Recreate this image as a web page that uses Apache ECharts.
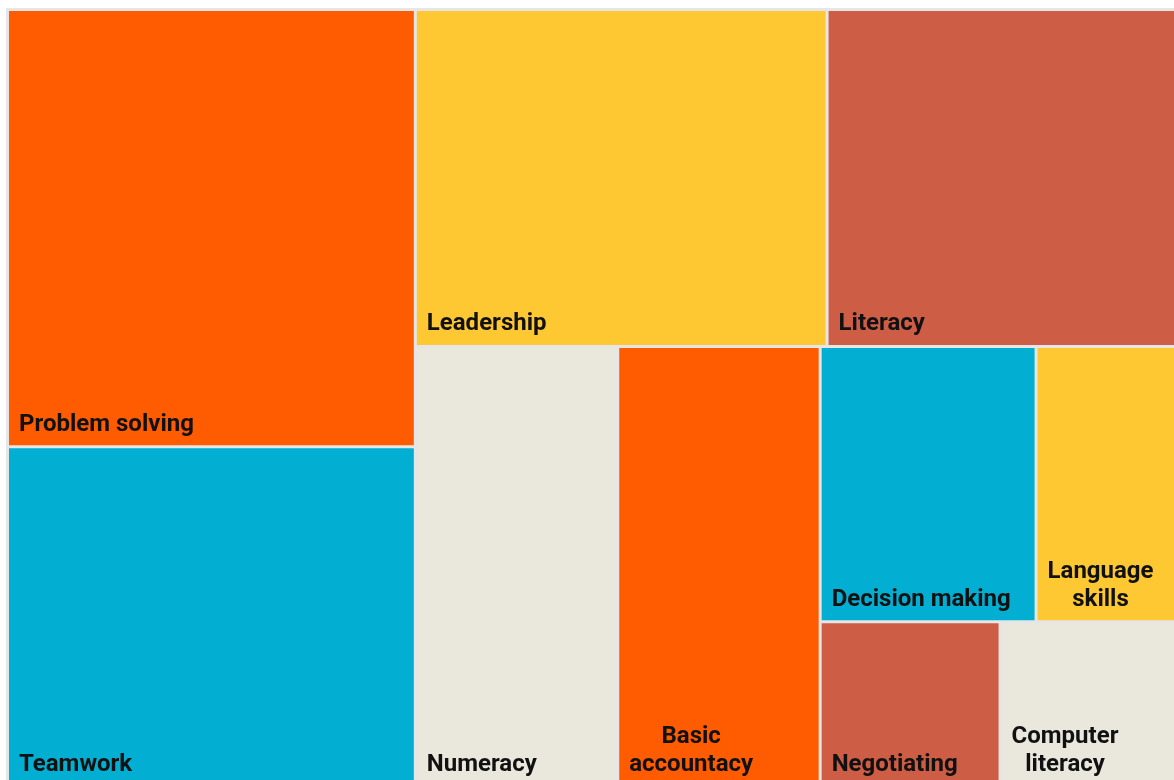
<!DOCTYPE html>
<html lang="en" style="height: 100%">
<head>
  <meta charset="utf-8">
  <title>Skills treemap</title>
</head>
<body style="height: 100%; margin: 0; background: #fff">
  <div id="container" style="width: 1174px; height: 780px"></div>
  <script type="text/javascript" src="https://fastly.jsdelivr.net/npm/echarts@6.0.0/dist/echarts.min.js"></script>
  <script type="text/javascript">
    // skills and their share
    const names = ['Problem solving', 'Teamwork', 'Leadership', 'Literacy', 'Numeracy',
      'Basic\naccountacy', 'Decision making', 'Language\nskills', 'Negotiating', 'Computer\nliteracy'];
    const values = [18, 14, 14, 12, 9, 9, 6, 4, 3, 3];
    const colors = ['#ff5b00', '#02aed1', '#fec832', '#ce5d46', '#eae7dd',
      '#ff5b00', '#02aed1', '#fec832', '#ce5d46', '#eae7dd'];

    // how the cells are grouped (first level items, then the nested right block)
    const topLevel = [0, 1, 2, 3, 4, 5];
    const rightBlock = [[6, 7], [8, 9]];

    const gapColor = '#e6e6e6';
    const labelFont = 'bold 24px Roboto';

    var dom = document.getElementById('container');
    var myChart = echarts.init(dom, null, { renderer: 'canvas' });

    // widest line of a label, so the lines can be centred on each other
    const ctx = document.createElement('canvas').getContext('2d');
    ctx.font = labelFont;
    function textWidth(s) {
      return Math.max.apply(null, s.split('\n').map(l => ctx.measureText(l).width));
    }

    function leaf(i) {
      return {
        name: names[i],
        value: values[i],
        itemStyle: { color: colors[i] },
        label: { position: [10 + textWidth(names[i]) / 2, '100%'] }
      };
    }
    function group(children) {
      let sum = 0;
      children.forEach(c => sum += c.value);
      return { name: '', value: sum, children: children, label: { show: false } };
    }

    const data = topLevel.map(leaf);
    data.push(group(rightBlock.map(g => group(g.map(leaf)))));

    const levelStyle = { itemStyle: { borderWidth: 0, gapWidth: 3, borderColor: gapColor } };

    var option = {
      animation: false,
      series: [
        {
          type: 'treemap',
          left: 6,
          top: 8,
          width: 1175.5,
          height: 780.5,
          roam: false,
          nodeClick: false,
          sort: false,
          squareRatio: 0.85,
          breadcrumb: { show: false },
          label: {
            show: true,
            align: 'center',
            verticalAlign: 'bottom',
            offset: [0, -1.5],
            overflow: 'none',
            fontFamily: 'Roboto',
            fontWeight: 'bold',
            fontSize: 24,
            lineHeight: 28,
            color: '#111'
          },
          upperLabel: { show: false },
          levels: [
            { itemStyle: { borderWidth: 3, gapWidth: 3, borderColor: gapColor } },
            levelStyle,
            levelStyle,
            levelStyle
          ],
          data: data
        }
      ]
    };

    myChart.setOption(option);
    window.addEventListener('resize', myChart.resize);
  </script>
</body>
</html>
